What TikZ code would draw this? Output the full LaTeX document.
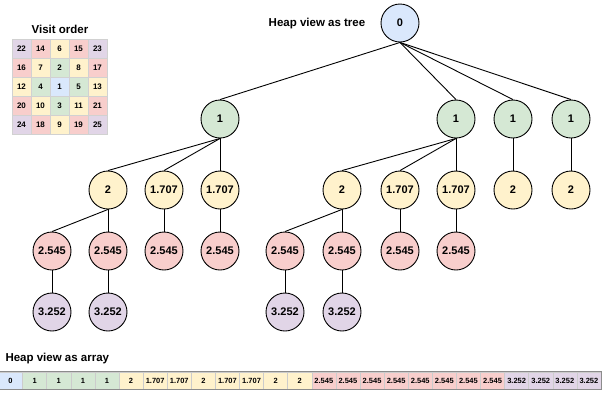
\documentclass[tikz,border=0pt]{standalone}
\usepackage{fontspec}
\setmainfont{Liberation Sans}
\usepackage{xcolor}
\usepackage{tikz}
\usetikzlibrary{arrows.meta,calc,positioning}

% ring colours, by distance from the centre
\definecolor{ring0}{HTML}{DAE8FC}
\definecolor{ring1}{HTML}{D5E8D4}
\definecolor{ring2}{HTML}{FFF2CC}
\definecolor{ring3}{HTML}{F8CECC}
\definecolor{ring4}{HTML}{E1D5E7}

\begin{document}
\begin{tikzpicture}[
    x=1pt,
    y=-1pt,
    heapnode/.style={
        circle,
        draw=black,
        line width=0.9pt,
        minimum size=38pt,
        inner sep=0pt,
        font=\fontsize{11}{12}\selectfont\bfseries
    },
    treeedge/.style={
        draw=black,
        line width=0.9pt
    },
    gridcell/.style={
        draw=black!18,
        line width=0.5pt,
        minimum width=19pt,
        minimum height=19pt,
        inner sep=0pt,
        font=\fontsize{8}{9}\selectfont\bfseries
    },
    arraycell/.style={
        draw=black!20,
        line width=0.5pt,
        minimum width=24.1pt,
        minimum height=17pt,
        inner sep=0pt,
        font=\fontsize{7.5}{9}\selectfont\bfseries
    },
    heading/.style={
        font=\fontsize{11.5}{13}\selectfont\bfseries
    }
]
\useasboundingbox (0,0) rectangle (606,392);

% visit order grid
\node[heading] (visittitle) at (60,29) {Visit order};
\foreach \row [count=\r from 0] in {{22,14,6,15,23},{16,7,2,8,17},{12,4,1,5,13},{20,10,3,11,21},{24,18,9,19,25}}{
    \foreach \v [count=\c from 0] in \row {
        \pgfmathtruncatemacro\d{abs(\r-2)+abs(\c-2)}
        \node[gridcell,fill=ring\d] (g-\r-\c) at ({21.5+19*\c},{48.5+19*\r}) {\v};
    }
}

% tree
\node[heading] (treetitle) at (317,24) {Heap view as tree};

\node[heapnode,fill=ring0] (root) at (400,23) {0};

\node[heapnode,fill=ring1] (a1) at (220,119) {1};
\node[heapnode,fill=ring1] (a2) at (456,119) {1};
\node[heapnode,fill=ring1] (a3) at (513,119) {1};
\node[heapnode,fill=ring1] (a4) at (571,119) {1};

\node[heapnode,fill=ring2] (b1) at (108,190) {2};
\node[heapnode,fill=ring2] (b2) at (164,190) {1.707};
\node[heapnode,fill=ring2] (b3) at (220,190) {1.707};
\node[heapnode,fill=ring2] (b4) at (342,190) {2};
\node[heapnode,fill=ring2] (b5) at (400,190) {1.707};
\node[heapnode,fill=ring2] (b6) at (456,190) {1.707};
\node[heapnode,fill=ring2] (b7) at (513,190) {2};
\node[heapnode,fill=ring2] (b8) at (571,190) {2};

\node[heapnode,fill=ring3] (c1) at (52,251) {2.545};
\node[heapnode,fill=ring3] (c2) at (108,251) {2.545};
\node[heapnode,fill=ring3] (c3) at (164,251) {2.545};
\node[heapnode,fill=ring3] (c4) at (220,251) {2.545};
\node[heapnode,fill=ring3] (c5) at (285,251) {2.545};
\node[heapnode,fill=ring3] (c6) at (342,251) {2.545};
\node[heapnode,fill=ring3] (c7) at (400,251) {2.545};
\node[heapnode,fill=ring3] (c8) at (456,251) {2.545};

\node[heapnode,fill=ring4] (d1) at (52,312) {3.252};
\node[heapnode,fill=ring4] (d2) at (108,312) {3.252};
\node[heapnode,fill=ring4] (d3) at (285,312) {3.252};
\node[heapnode,fill=ring4] (d4) at (342,312) {3.252};

\foreach \p/\q in {root/a1,root/a2,root/a3,root/a4,
                   a1/b1,a1/b2,a1/b3,a2/b4,a2/b5,a2/b6,a3/b7,a4/b8,
                   b1/c1,b1/c2,b2/c3,b3/c4,b4/c5,b4/c6,b5/c7,b6/c8,
                   c1/d1,c2/d2,c5/d3,c6/d4}
    \draw[treeedge] (\p.south) -- (\q.north);

% array
\node[heading,anchor=west] (arraytitle) at (2,359) {Heap view as array};
\foreach \v/\k [count=\i from 0] in {0/0,1/1,1/1,1/1,1/1,
        2/2,1.707/2,1.707/2,2/2,1.707/2,1.707/2,2/2,2/2,
        2.545/3,2.545/3,2.545/3,2.545/3,2.545/3,2.545/3,2.545/3,2.545/3,
        3.252/4,3.252/4,3.252/4,3.252/4}
    \node[arraycell,fill=ring\k] (h-\i) at ({10.55+24.1*\i},380.5) {\v};
\draw[black!45,line width=0.6pt] (h-0.north west) rectangle (h-24.south east);

\end{tikzpicture}
\end{document}
